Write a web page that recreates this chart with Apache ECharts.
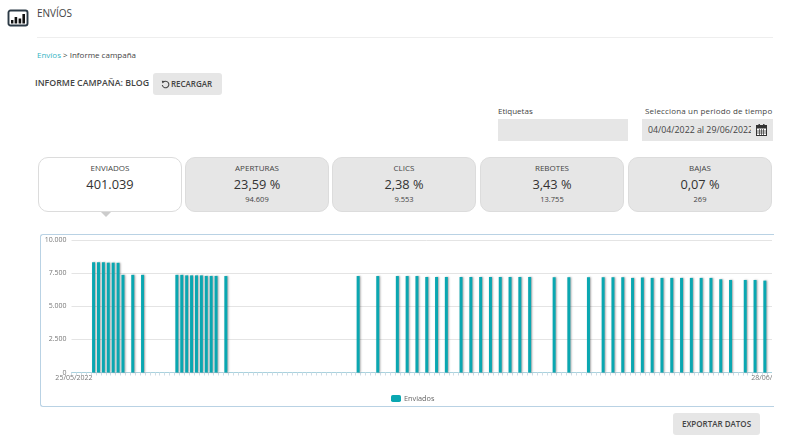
<!DOCTYPE html>
<html>
<head>
<meta charset="utf-8">
<title>Informe campaña</title>
<script src="https://cdn.jsdelivr.net/npm/echarts@6/dist/echarts.min.js"></script>
<style>
html, body { margin: 0; padding: 0; width: 786px; height: 446px; overflow: hidden; background: #fff; }
body { font-family: "Open Sans", sans-serif; color: #444; position: relative; }
.abs { position: absolute; white-space: nowrap; }
.grey { background: #e6e6e6; }
.btn { background: #e6e6e6; border-radius: 3px; font-size: 8px; font-weight: 600; color: #444; text-align: center; line-height: 22px; }
.card { position: absolute; top: 157px; height: 53px; width: 142px; border: 1px solid #dcdcdc; border-radius: 10px; background: #e6e6e6; text-align: center; }
.card.on { background: #fff; }
.card div { position: absolute; left: 0; right: 0; }
.card .name { top: 4px; font-size: 8px; line-height: 11px; font-weight: 500; color: #444; }
.card .big { top: 17px; font-size: 12.8px; line-height: 18px; color: #333; }
.card .small { top: 36px; font-size: 7.5px; line-height: 10px; }
#frame { position: absolute; left: 40px; top: 234px; width: 733px; height: 171px; border: 1px solid #b9d2e4; border-right: 0; border-radius: 3px 0 0 3px; box-sizing: content-box; }
#clip { position: absolute; left: 0; top: 230px; width: 772px; height: 175px; overflow: hidden; }
#chart { position: absolute; left: 0; top: 0; width: 786px; height: 175px; }
</style>
</head>
<body>

<svg class="abs" style="left:7px;top:9px" width="22" height="18" viewBox="0 0 22 18">
  <rect x="1.5" y="1.5" width="19" height="15" rx="2" fill="#fff" stroke="#2c3a46" stroke-width="1.9"/>
  <rect x="4" y="11" width="2.4" height="3.5" fill="#111"/>
  <rect x="7.6" y="8" width="2.6" height="6.5" fill="#111"/>
  <rect x="11.6" y="9.5" width="2.6" height="5" fill="#111"/>
  <rect x="15.4" y="5" width="2.6" height="9.5" fill="#111"/>
</svg>
<div class="abs" style="left:37px;top:6px;font-size:10px;line-height:14px;color:#444">ENVÍOS</div>
<div class="abs" style="left:37px;top:37px;width:736px;height:1px;background:#eee"></div>
<div class="abs" style="left:37px;top:49px;font-size:8px;line-height:11px"><span style="color:#35b4c4">Envíos</span> &gt; Informe campaña</div>
<div class="abs" style="left:35px;top:76px;font-size:8.8px;line-height:14px;font-weight:600">INFORME CAMPAÑA: BLOG</div>
<div class="abs btn" style="left:153px;top:73px;width:69px;height:22px;padding-left:8px;box-sizing:border-box">RECARGAR</div>
<svg class="abs" style="left:161px;top:80px" width="9" height="9" viewBox="0 0 9 9">
  <path d="M2 2.4 A3.3 3.3 0 1 1 1.3 5" fill="none" stroke="#444" stroke-width="1.1"/>
  <path d="M0.8 0.8 L3.4 1 L1.4 3.4 Z" fill="#444"/>
</svg>

<div class="abs" style="left:498px;top:105px;font-size:8px;line-height:11px">Etiquetas</div>
<div class="abs grey" style="left:498px;top:119px;width:130px;height:22px"></div>
<div class="abs" style="left:645px;top:105px;font-size:8px;line-height:11px;letter-spacing:.16px">Selecciona un periodo de tiempo</div>
<div class="abs grey" style="left:642px;top:119px;width:131px;height:22px"></div>
<div class="abs" style="left:648px;top:124px;width:103px;overflow:hidden;font-size:8.8px;line-height:13px">04/04/2022 al 29/06/2022</div>
<svg class="abs" style="left:756px;top:124px" width="11" height="12" viewBox="0 0 11 12">
  <rect x="0.5" y="1.5" width="10" height="10" fill="#fff" stroke="#333"/>
  <rect x="0.5" y="1.5" width="10" height="3" fill="#333"/>
  <path d="M3.5 5 V11 M5.5 5 V11 M7.5 5 V11 M1 7 H10 M1 9 H10" stroke="#333" stroke-width=".7"/>
  <rect x="2.5" y="0" width="1.4" height="2.4" fill="#333"/>
  <rect x="7.1" y="0" width="1.4" height="2.4" fill="#333"/>
</svg>

<div id="cards"></div>
<div class="abs" style="left:101px;top:212px;width:0;height:0;border-left:5px solid transparent;border-right:5px solid transparent;border-top:5px solid #ccc"></div>

<div id="frame"></div>
<div id="clip"><div id="chart"></div></div>

<div class="abs btn" style="left:673px;top:413px;width:87px;height:22px">EXPORTAR DATOS</div>

<script>
(function () {
    'use strict';

    var seriesName = 'Enviados';
    var yTicks = [0, 2500, 5000, 7500, 10000];
    var tickIndexes = [0, 142];
    var tickLabels = ['25/05/2022', '28/06/2022'];

    // one value per category
    var sent = [
        0, 0, 0, 0, 8320, 8320, 8320, 8290, 8290, 8280,
        7370, 0, 7370, 0, 7370, 0, 0, 0, 0, 0,
        0, 7370, 7370, 7330, 7330, 7330, 7330, 7290, 7290, 7290,
        0, 7280, 0, 0, 0, 0, 0, 0, 0, 0,
        0, 0, 0, 0, 0, 0, 0, 0, 0, 0,
        0, 0, 0, 0, 0, 0, 0, 0, 7280, 0,
        0, 0, 7280, 0, 0, 0, 7280, 0, 7280, 0,
        7280, 0, 7210, 0, 7210, 0, 7210, 0, 0, 7210,
        0, 7210, 0, 7210, 0, 7210, 0, 7210, 0, 7210,
        0, 7210, 0, 7210, 0, 0, 0, 0, 7190, 0,
        0, 7190, 0, 0, 0, 7190, 0, 0, 7190, 0,
        7190, 0, 7190, 0, 7140, 0, 7170, 0, 7140, 0,
        7140, 0, 7140, 0, 7140, 0, 7140, 0, 7140, 0,
        7140, 0, 7035, 0, 6985, 0, 0, 6985, 0, 6985,
        0, 6935, 0, 0, 0
    ];

    var cardNames = ['ENVIADOS', 'APERTURAS', 'CLICS', 'REBOTES', 'BAJAS'];
    var cardValues = ['401.039', '23,59 %', '2,38 %', '3,43 %', '0,07 %'];
    var cardCounts = ['', '94.609', '9.553', '13.755', '269'];
    var cardLefts = [38, 185, 332, 480, 628];

    var cards = document.getElementById('cards');
    cardNames.forEach(function (name, i) {
        var card = document.createElement('div');
        card.className = i === 0 ? 'card on' : 'card';
        card.style.left = cardLefts[i] + 'px';
        card.innerHTML = '<div class="name">' + name + '</div>' +
            '<div class="big">' + cardValues[i] + '</div>' +
            '<div class="small">' + cardCounts[i] + '</div>';
        cards.appendChild(card);
    });

    var categories = sent.map(function (v, i) {
        var at = tickIndexes.indexOf(i);
        return at >= 0 ? tickLabels[at] : '';
    });

    var chart = echarts.init(document.getElementById('chart'), null, { renderer: 'canvas' });
    chart.setOption({
        animation: false,
        textStyle: { fontFamily: '"Open Sans", sans-serif' },
        // the plot runs past the clipped right edge, so no shrinking to fit labels
        grid: { left: 71.5, top: 10, width: 710.5, height: 132.5, outerBoundsMode: 'none' },
        legend: {
            left: 386,
            top: 160,
            itemWidth: 10,
            itemHeight: 7,
            itemGap: 4,
            textStyle: { fontSize: 7.3, color: '#666', padding: [0, 0, 0, -2] },
            data: [seriesName]
        },
        xAxis: {
            type: 'category',
            data: categories,
            axisLine: { lineStyle: { color: '#a9d2de', width: 1 } },
            axisTick: { show: true, length: 3, interval: 0, lineStyle: { color: '#cfdde6' } },
            axisLabel: { interval: 0, margin: 2, fontSize: 7, color: '#777', hideOverlap: false },
            splitLine: { show: false }
        },
        yAxis: {
            type: 'value',
            min: yTicks[0],
            max: yTicks[yTicks.length - 1],
            interval: yTicks[1] - yTicks[0],
            axisLine: { show: false },
            axisTick: { show: false },
            axisLabel: {
                margin: 5,
                fontSize: 7,
                color: '#777',
                formatter: function (v) {
                    return String(v).replace(/\B(?=(\d{3})+$)/g, '.');
                }
            },
            splitLine: { lineStyle: { color: '#e4e4e4', width: 1 } }
        },
        series: [{
            name: seriesName,
            type: 'bar',
            data: sent,
            barWidth: 3,
            itemStyle: {
                color: '#0aa7b1',
                shadowColor: 'rgba(0,0,0,0.35)',
                shadowBlur: 2,
                shadowOffsetX: 1
            }
        }]
    });
})();
</script>
</body>
</html>
